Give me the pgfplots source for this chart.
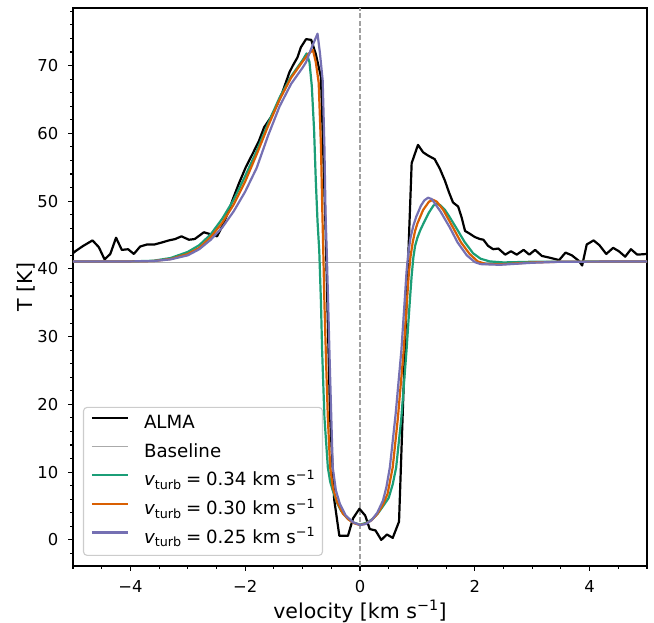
\documentclass[border=0pt]{standalone}
\usepackage{pgfplots}
\pgfplotsset{compat=1.18}
\usepackage{fontspec}
\setmainfont{DejaVu Sans}
\definecolor{cgreen}{HTML}{1B9E77}
\definecolor{corange}{HTML}{D95F02}
\definecolor{cpurple}{HTML}{7570B3}
\definecolor{cbase}{HTML}{AAAAAA}
\definecolor{cdash}{HTML}{A0A0A0}
\definecolor{cleg}{HTML}{CCCCCC}
\begin{document}
\begin{tikzpicture}
\begin{axis}[
  scale only axis, width=574pt, height=558pt,
  xmin=-5, xmax=5, ymin=-3.85, ymax=78.5,
  axis line style={line width=1.1pt},
  every tick/.style={black, line width=1.1pt},
  tick align=outside,
  xtick pos=left, ytick pos=left,
  major tick length=4.9pt, minor tick length=2.8pt,
  xtick={-4,-2,0,2,4}, xticklabels={−4,−2,0,2,4},
  minor xtick={-5,-4.5,...,5},
  ytick={0,10,20,30,40,50,60,70},
  minor ytick={-2,0,...,78},
  /pgf/number format/assume math mode=true,
  tick label style={font=\fontsize{16.4}{19}\selectfont, inner sep=0pt},
  xticklabel shift=9.7pt, yticklabel shift=9.7pt,
  label style={font=\fontsize{20.5}{24}\selectfont},
  xlabel={velocity [km s\textsuperscript{−1}]},
  ylabel={T [K]},
  xlabel style={at={(axis description cs:0.5,-0.0815)}, anchor=center},
  ylabel style={at={(axis description cs:-0.082,0.5)}, anchor=center},
  legend style={at={(0.0174,0.018)}, anchor=south west, draw=cleg, line width=1.1pt,
    rounded corners=3.6pt, fill=white, fill opacity=0.8, text opacity=1,
    font=\fontsize{18.2}{21}\selectfont, inner sep=7.3pt, row sep=9.6pt, column sep=14.6pt,
    nodes={inner sep=0pt, text height=14pt, text depth=5pt}},
  legend cell align=left,
  legend image code/.code={\draw[#1] (0pt,6pt) -- (36.4pt,6pt);},
]
\coordinate (bl) at (rel axis cs:0,0);
\coordinate (tr) at (rel axis cs:1,1);
\addplot[cdash, line width=1.39pt, dash pattern=on 5.1pt off 2.2pt, forget plot] coordinates {(0,-3.85) (0,78.5)};
\addplot[black, line width=2.2pt, line join=round] coordinates {
(-5.00,42.3) (-4.96,42.6) (-4.82,43.4) (-4.66,44.2) (-4.55,43.2) (-4.45,41.4) (-4.35,42.2) (-4.25,44.6)
(-4.15,42.8) (-4.04,42.9) (-3.94,42.2) (-3.83,43.3) (-3.71,43.6) (-3.58,43.6) (-3.45,43.9) (-3.33,44.2)
(-3.22,44.4) (-3.11,44.8) (-2.98,44.3) (-2.88,44.4) (-2.72,45.4) (-2.60,45.1) (-2.49,44.8) (-2.40,46.3)
(-2.30,48.3) (-2.21,50.4) (-2.11,52.6) (-1.99,55.0) (-1.87,57.0) (-1.76,58.9) (-1.67,60.9) (-1.55,62.4)
(-1.44,64.3) (-1.35,66.1) (-1.23,69.0) (-1.17,70.0) (-1.09,71.2) (-1.03,72.7) (-0.94,73.9) (-0.85,73.8)
(-0.77,71.7) (-0.68,68.3) (-0.60,46.0) (-0.52,18.0) (-0.45,6.0) (-0.36,0.6) (-0.21,0.6) (-0.12,3.2)
(-0.01,4.6) (0.09,3.6) (0.17,1.6) (0.27,1.4) (0.37,0.0) (0.47,0.8) (0.57,0.3) (0.68,2.7)
(0.79,30.0) (0.90,55.6) (1.01,58.3) (1.10,57.2) (1.19,56.7) (1.30,56.2) (1.39,54.8) (1.48,53.0)
(1.55,51.3) (1.62,49.8) (1.71,49.2) (1.77,47.6) (1.83,45.6) (1.91,45.2) (2.00,44.7) (2.09,44.4)
(2.15,44.3) (2.23,43.4) (2.32,42.9) (2.41,43.0) (2.53,42.1) (2.63,42.6) (2.73,42.1) (2.85,42.8)
(2.95,42.1) (3.05,42.8) (3.17,41.9) (3.28,41.7) (3.47,41.3) (3.58,42.4) (3.69,42.0) (3.81,41.2)
(3.87,40.5) (3.95,43.6) (4.07,44.2) (4.17,43.5) (4.29,42.2) (4.41,43.1) (4.51,42.6) (4.62,41.8)
(4.72,42.9) (4.83,42.1) (5.00,42.2)};
\addlegendentry{ALMA}
\addplot[cbase, line width=1.39pt] coordinates {(-5,40.9) (5,40.9)};
\addlegendentry{Baseline}
\addplot[cgreen, line width=2.2pt, line join=round] coordinates {
(-5,41.1) (-4,41.1) (-3.6,41.2) (-3.3,41.6) (-3.0,42.5) (-2.8,43.5) (-2.6,45.1) (-2.4,47.4)
(-2.2,50.2) (-2.0,53.7) (-1.8,57.4) (-1.6,61.5) (-1.4,65.3) (-1.2,68.4) (-1.0,70.8) (-0.93,71.8)
(-0.88,70.5) (-0.84,67.0) (-0.80,60.5) (-0.77,53.0) (-0.74,47.0) (-0.71,42.7) (-0.68,35.0) (-0.66,28.0)
(-0.62,18.1) (-0.56,10.7) (-0.52,8.6) (-0.475,7.3) (-0.40,5.5) (-0.33,4.3) (-0.22,3.2) (-0.125,2.6)
(0,2.25) (0.12,2.55) (0.22,3.1) (0.32,4.0) (0.42,5.2) (0.50,6.2) (0.57,8.2) (0.63,10.7)
(0.72,18.0) (0.81,27.9) (0.87,35.5) (0.90,39.0) (0.93,41.7) (0.96,43.4) (1.00,44.6) (1.05,45.7)
(1.10,46.6) (1.20,48.3) (1.28,49.35) (1.34,49.6) (1.40,49.4) (1.48,48.7) (1.55,47.8) (1.68,46.0)
(1.82,44.0) (1.97,42.3) (2.10,41.5) (2.26,41.1) (2.5,40.95) (3.0,41.05) (5,41.1)};
\addlegendentry{{\itshape v}\textsubscript{turb}\hspace{0.25em}=\hspace{0.25em}0.34 km s\textsuperscript{−1}}
\addplot[corange, line width=2.2pt, line join=round] coordinates {
(-5,41.1) (-4,41.1) (-3.6,41.15) (-3.3,41.45) (-3.0,42.2) (-2.8,43.1) (-2.6,44.7) (-2.4,46.8)
(-2.2,49.5) (-2.0,52.9) (-1.8,56.9) (-1.6,61.1) (-1.4,65.0) (-1.2,68.2) (-1.0,70.6) (-0.9,71.7)
(-0.82,72.3) (-0.77,70.5) (-0.72,67.5) (-0.68,58.0) (-0.655,48.0) (-0.64,42.7) (-0.62,35.0) (-0.59,26.0)
(-0.56,18.0) (-0.52,10.7) (-0.47,7.6) (-0.40,5.6) (-0.30,3.9) (-0.2,3.0) (-0.1,2.45) (0,2.2)
(0.1,2.4) (0.2,2.9) (0.3,3.8) (0.4,5.2) (0.48,6.8) (0.57,10.7) (0.66,18.0) (0.76,27.9)
(0.82,35.5) (0.85,39.2) (0.88,41.8) (0.92,44.0) (0.96,45.6) (1.0,46.7) (1.1,48.7) (1.2,49.9)
(1.27,50.2) (1.34,49.9) (1.45,48.7) (1.62,46.1) (1.76,43.9) (1.91,42.2) (2.05,41.1) (2.2,40.7)
(2.5,40.7) (3.0,40.95) (3.5,41.05) (5,41.1)};
\addlegendentry{{\itshape v}\textsubscript{turb}\hspace{0.25em}=\hspace{0.25em}0.30 km s\textsuperscript{−1}}
\addplot[cpurple, line width=2.2pt, line join=round] coordinates {
(-5,41.1) (-4,41.1) (-3.6,41.15) (-3.3,41.4) (-3.0,42.0) (-2.8,42.9) (-2.6,44.3) (-2.4,46.1)
(-2.2,48.5) (-2.0,51.4) (-1.8,54.9) (-1.6,59.7) (-1.4,64.0) (-1.2,67.3) (-1.0,69.7) (-0.94,70.5)
(-0.85,72.5) (-0.74,74.7) (-0.70,72.0) (-0.65,67.8) (-0.62,58.0) (-0.60,48.0) (-0.58,42.7) (-0.555,35.0)
(-0.53,27.0) (-0.50,18.0) (-0.475,10.7) (-0.42,7.3) (-0.35,5.3) (-0.25,3.6) (-0.12,2.6) (0,2.2)
(0.1,2.35) (0.2,2.9) (0.3,4.0) (0.40,5.8) (0.46,7.8) (0.52,10.7) (0.62,18.5) (0.72,27.9)
(0.78,35.5) (0.81,39.5) (0.84,42.2) (0.88,44.6) (0.93,46.4) (0.98,47.7) (1.06,49.3) (1.12,50.1)
(1.185,50.5) (1.25,50.3) (1.4,48.5) (1.565,46.1) (1.7,43.9) (1.86,42.0) (2.0,41.0) (2.1,40.7)
(2.44,40.6) (3.0,40.9) (3.5,41.05) (5,41.1)};
\addlegendentry{{\itshape v}\textsubscript{turb}\hspace{0.25em}=\hspace{0.25em}0.25 km s\textsuperscript{−1}}
\end{axis}
\pgfresetboundingbox
\path[use as bounding box] ([shift={(-73pt,-57pt)}]bl) rectangle ([shift={(7pt,8pt)}]tr);
\end{tikzpicture}
\end{document}
